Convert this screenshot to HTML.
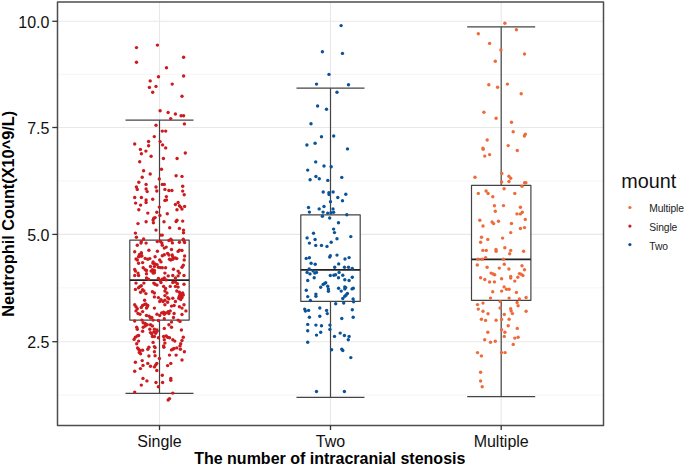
<!DOCTYPE html><html><head><meta charset="utf-8"><style>html,body{margin:0;padding:0;background:#fff;width:685px;height:466px;overflow:hidden}svg{display:block}text{font-family:"Liberation Sans",sans-serif}</style></head><body>
<svg width="685" height="466" viewBox="0 0 685 466">
<rect width="685" height="466" fill="#fff"/>
<line x1="57.5" x2="603.5" y1="395.10" y2="395.10" stroke="#F2F2F2" stroke-width="0.8"/>
<line x1="57.5" x2="603.5" y1="287.90" y2="287.90" stroke="#F2F2F2" stroke-width="0.8"/>
<line x1="57.5" x2="603.5" y1="181.00" y2="181.00" stroke="#F2F2F2" stroke-width="0.8"/>
<line x1="57.5" x2="603.5" y1="74.40" y2="74.40" stroke="#F2F2F2" stroke-width="0.8"/>
<line x1="57.5" x2="603.5" y1="341.70" y2="341.70" stroke="#E8E8E8" stroke-width="1.1"/>
<line x1="57.5" x2="603.5" y1="234.40" y2="234.40" stroke="#E8E8E8" stroke-width="1.1"/>
<line x1="57.5" x2="603.5" y1="127.50" y2="127.50" stroke="#E8E8E8" stroke-width="1.1"/>
<line x1="57.5" x2="603.5" y1="21.30" y2="21.30" stroke="#E8E8E8" stroke-width="1.1"/>
<line x1="159.5" x2="159.5" y1="2.0" y2="425.4" stroke="#E8E8E8" stroke-width="1.1"/>
<line x1="330.5" x2="330.5" y1="2.0" y2="425.4" stroke="#E8E8E8" stroke-width="1.1"/>
<line x1="501.2" x2="501.2" y1="2.0" y2="425.4" stroke="#E8E8E8" stroke-width="1.1"/>
<line x1="125.5" x2="193.5" y1="120.2" y2="120.2" stroke="#444444" stroke-width="1.2"/>
<line x1="125.5" x2="193.5" y1="393.4" y2="393.4" stroke="#444444" stroke-width="1.2"/>
<line x1="159.5" x2="159.5" y1="120.2" y2="240.1" stroke="#444444" stroke-width="1.2"/>
<line x1="159.5" x2="159.5" y1="320.1" y2="393.4" stroke="#444444" stroke-width="1.2"/>
<rect x="129.8" y="240.1" width="59.4" height="80.00000000000003" fill="#fff" stroke="#444444" stroke-width="1.2" stroke-linejoin="round"/>
<line x1="129.8" x2="189.2" y1="280.2" y2="280.2" stroke="#222222" stroke-width="1.75"/>
<line x1="296.5" x2="364.5" y1="88.2" y2="88.2" stroke="#444444" stroke-width="1.2"/>
<line x1="296.5" x2="364.5" y1="397.4" y2="397.4" stroke="#444444" stroke-width="1.2"/>
<line x1="330.5" x2="330.5" y1="88.2" y2="214.9" stroke="#444444" stroke-width="1.2"/>
<line x1="330.5" x2="330.5" y1="301.4" y2="397.4" stroke="#444444" stroke-width="1.2"/>
<rect x="300.8" y="214.9" width="59.4" height="86.49999999999997" fill="#fff" stroke="#444444" stroke-width="1.2" stroke-linejoin="round"/>
<line x1="300.8" x2="360.2" y1="269.8" y2="269.8" stroke="#222222" stroke-width="1.75"/>
<line x1="467.2" x2="535.2" y1="26.9" y2="26.9" stroke="#444444" stroke-width="1.2"/>
<line x1="467.2" x2="535.2" y1="396.7" y2="396.7" stroke="#444444" stroke-width="1.2"/>
<line x1="501.2" x2="501.2" y1="26.9" y2="185.4" stroke="#444444" stroke-width="1.2"/>
<line x1="501.2" x2="501.2" y1="300.3" y2="396.7" stroke="#444444" stroke-width="1.2"/>
<rect x="471.5" y="185.4" width="59.4" height="114.9" fill="#fff" stroke="#444444" stroke-width="1.2" stroke-linejoin="round"/>
<line x1="471.5" x2="530.9" y1="259.3" y2="259.3" stroke="#222222" stroke-width="1.75"/>
<g fill="#CC1A1E">
<circle cx="136.5" cy="47.6" r="1.7"/>
<circle cx="157.4" cy="45.1" r="1.7"/>
<circle cx="183.6" cy="57.3" r="1.7"/>
<circle cx="136.5" cy="62.3" r="1.7"/>
<circle cx="166.5" cy="67.8" r="1.7"/>
<circle cx="158.5" cy="76.8" r="1.7"/>
<circle cx="183.6" cy="76.0" r="1.7"/>
<circle cx="150.2" cy="80.9" r="1.7"/>
<circle cx="172.2" cy="84.1" r="1.7"/>
<circle cx="149.4" cy="87.4" r="1.7"/>
<circle cx="156.0" cy="86.4" r="1.7"/>
<circle cx="152.7" cy="92.2" r="1.7"/>
<circle cx="182.0" cy="96.2" r="1.7"/>
<circle cx="160.1" cy="110.8" r="1.7"/>
<circle cx="168.1" cy="112.5" r="1.7"/>
<circle cx="175.4" cy="114.0" r="1.7"/>
<circle cx="181.1" cy="115.8" r="1.7"/>
<circle cx="183.6" cy="115.8" r="1.7"/>
<circle cx="170.7" cy="118.6" r="1.7"/>
<circle cx="184.4" cy="123.9" r="1.7"/>
<circle cx="156.0" cy="125.3" r="1.7"/>
<circle cx="162.3" cy="131.1" r="1.7"/>
<circle cx="165.7" cy="131.1" r="1.7"/>
<circle cx="154.3" cy="136.6" r="1.7"/>
<circle cx="148.6" cy="141.5" r="1.7"/>
<circle cx="160.1" cy="141.6" r="1.7"/>
<circle cx="134.7" cy="144.0" r="1.7"/>
<circle cx="148.6" cy="145.8" r="1.7"/>
<circle cx="162.6" cy="144.9" r="1.7"/>
<circle cx="165.7" cy="147.9" r="1.7"/>
<circle cx="140.4" cy="149.4" r="1.7"/>
<circle cx="145.9" cy="151.1" r="1.7"/>
<circle cx="141.4" cy="153.8" r="1.7"/>
<circle cx="151.1" cy="156.2" r="1.7"/>
<circle cx="185.3" cy="153.0" r="1.7"/>
<circle cx="163.4" cy="158.5" r="1.7"/>
<circle cx="177.1" cy="158.5" r="1.7"/>
<circle cx="139.7" cy="161.8" r="1.7"/>
<circle cx="161.5" cy="169.2" r="1.7"/>
<circle cx="143.6" cy="170.8" r="1.7"/>
<circle cx="150.2" cy="174.0" r="1.7"/>
<circle cx="176.1" cy="175.7" r="1.7"/>
<circle cx="182.0" cy="176.4" r="1.7"/>
<circle cx="142.2" cy="177.2" r="1.7"/>
<circle cx="159.3" cy="178.9" r="1.7"/>
<circle cx="138.8" cy="182.2" r="1.7"/>
<circle cx="146.1" cy="184.4" r="1.7"/>
<circle cx="162.3" cy="184.4" r="1.7"/>
<circle cx="164.3" cy="184.4" r="1.7"/>
<circle cx="136.4" cy="187.0" r="1.7"/>
<circle cx="137.3" cy="189.4" r="1.7"/>
<circle cx="146.1" cy="189.0" r="1.7"/>
<circle cx="147.2" cy="191.6" r="1.7"/>
<circle cx="156.0" cy="187.0" r="1.7"/>
<circle cx="156.8" cy="191.0" r="1.7"/>
<circle cx="164.9" cy="189.4" r="1.7"/>
<circle cx="168.9" cy="190.5" r="1.7"/>
<circle cx="171.9" cy="190.5" r="1.7"/>
<circle cx="182.7" cy="186.3" r="1.7"/>
<circle cx="182.7" cy="191.1" r="1.7"/>
<circle cx="184.2" cy="194.7" r="1.7"/>
<circle cx="134.7" cy="197.5" r="1.7"/>
<circle cx="141.4" cy="197.5" r="1.7"/>
<circle cx="146.1" cy="199.9" r="1.7"/>
<circle cx="146.1" cy="202.5" r="1.7"/>
<circle cx="152.7" cy="199.2" r="1.7"/>
<circle cx="166.4" cy="196.6" r="1.7"/>
<circle cx="164.9" cy="200.5" r="1.7"/>
<circle cx="166.5" cy="199.9" r="1.7"/>
<circle cx="135.6" cy="203.1" r="1.7"/>
<circle cx="140.6" cy="205.1" r="1.7"/>
<circle cx="138.8" cy="209.7" r="1.7"/>
<circle cx="159.3" cy="207.1" r="1.7"/>
<circle cx="175.4" cy="204.5" r="1.7"/>
<circle cx="178.1" cy="202.5" r="1.7"/>
<circle cx="179.4" cy="205.8" r="1.7"/>
<circle cx="180.7" cy="207.1" r="1.7"/>
<circle cx="182.0" cy="209.1" r="1.7"/>
<circle cx="184.6" cy="206.4" r="1.7"/>
<circle cx="177.0" cy="209.7" r="1.7"/>
<circle cx="147.8" cy="213.1" r="1.7"/>
<circle cx="156.8" cy="212.3" r="1.7"/>
<circle cx="159.9" cy="215.4" r="1.7"/>
<circle cx="167.3" cy="213.8" r="1.7"/>
<circle cx="153.8" cy="218.2" r="1.7"/>
<circle cx="155.1" cy="217.6" r="1.7"/>
<circle cx="153.1" cy="220.0" r="1.7"/>
<circle cx="153.4" cy="222.8" r="1.7"/>
<circle cx="146.1" cy="221.8" r="1.7"/>
<circle cx="138.0" cy="223.6" r="1.7"/>
<circle cx="164.0" cy="221.8" r="1.7"/>
<circle cx="176.1" cy="221.5" r="1.7"/>
<circle cx="177.0" cy="220.2" r="1.7"/>
<circle cx="182.7" cy="221.1" r="1.7"/>
<circle cx="156.0" cy="230.1" r="1.7"/>
<circle cx="169.7" cy="227.7" r="1.7"/>
<circle cx="179.4" cy="228.4" r="1.7"/>
<circle cx="183.5" cy="230.1" r="1.7"/>
<circle cx="183.5" cy="232.7" r="1.7"/>
<circle cx="135.4" cy="233.1" r="1.7"/>
<circle cx="136.4" cy="237.3" r="1.7"/>
<circle cx="160.7" cy="235.1" r="1.7"/>
<circle cx="162.3" cy="235.1" r="1.7"/>
<circle cx="143.6" cy="238.9" r="1.7"/>
<circle cx="170.8" cy="239.3" r="1.7"/>
<circle cx="183.3" cy="239.3" r="1.7"/>
<circle cx="141.3" cy="241.6" r="1.7"/>
<circle cx="141.0" cy="243.1" r="1.7"/>
<circle cx="146.1" cy="243.1" r="1.7"/>
<circle cx="157.3" cy="241.6" r="1.7"/>
<circle cx="160.3" cy="241.3" r="1.7"/>
<circle cx="161.8" cy="242.9" r="1.7"/>
<circle cx="168.9" cy="240.5" r="1.7"/>
<circle cx="171.5" cy="240.3" r="1.7"/>
<circle cx="172.4" cy="242.9" r="1.7"/>
<circle cx="179.4" cy="242.2" r="1.7"/>
<circle cx="184.0" cy="240.9" r="1.7"/>
<circle cx="184.6" cy="242.6" r="1.7"/>
<circle cx="137.3" cy="245.2" r="1.7"/>
<circle cx="162.3" cy="245.2" r="1.7"/>
<circle cx="164.3" cy="248.1" r="1.7"/>
<circle cx="166.2" cy="247.1" r="1.7"/>
<circle cx="171.5" cy="249.5" r="1.7"/>
<circle cx="148.9" cy="250.2" r="1.7"/>
<circle cx="134.7" cy="251.8" r="1.7"/>
<circle cx="157.4" cy="251.3" r="1.7"/>
<circle cx="178.1" cy="251.4" r="1.7"/>
<circle cx="179.4" cy="250.1" r="1.7"/>
<circle cx="182.0" cy="250.5" r="1.7"/>
<circle cx="139.3" cy="254.7" r="1.7"/>
<circle cx="141.3" cy="252.7" r="1.7"/>
<circle cx="140.6" cy="256.0" r="1.7"/>
<circle cx="138.6" cy="256.7" r="1.7"/>
<circle cx="141.9" cy="256.0" r="1.7"/>
<circle cx="162.3" cy="255.8" r="1.7"/>
<circle cx="164.3" cy="254.7" r="1.7"/>
<circle cx="167.6" cy="253.4" r="1.7"/>
<circle cx="168.9" cy="255.0" r="1.7"/>
<circle cx="172.2" cy="255.0" r="1.7"/>
<circle cx="172.8" cy="256.7" r="1.7"/>
<circle cx="155.1" cy="256.7" r="1.7"/>
<circle cx="184.6" cy="256.0" r="1.7"/>
<circle cx="169.5" cy="259.3" r="1.7"/>
<circle cx="170.8" cy="260.0" r="1.7"/>
<circle cx="136.0" cy="258.9" r="1.7"/>
<circle cx="137.3" cy="260.0" r="1.7"/>
<circle cx="145.2" cy="258.4" r="1.7"/>
<circle cx="147.8" cy="259.3" r="1.7"/>
<circle cx="149.8" cy="258.6" r="1.7"/>
<circle cx="153.1" cy="261.9" r="1.7"/>
<circle cx="142.6" cy="262.6" r="1.7"/>
<circle cx="138.6" cy="263.2" r="1.7"/>
<circle cx="159.7" cy="260.0" r="1.7"/>
<circle cx="161.0" cy="261.9" r="1.7"/>
<circle cx="175.4" cy="258.0" r="1.7"/>
<circle cx="176.8" cy="258.6" r="1.7"/>
<circle cx="172.8" cy="259.3" r="1.7"/>
<circle cx="184.2" cy="260.0" r="1.7"/>
<circle cx="153.1" cy="263.2" r="1.7"/>
<circle cx="155.1" cy="263.9" r="1.7"/>
<circle cx="157.0" cy="264.6" r="1.7"/>
<circle cx="150.5" cy="266.5" r="1.7"/>
<circle cx="154.4" cy="266.5" r="1.7"/>
<circle cx="158.4" cy="267.2" r="1.7"/>
<circle cx="160.3" cy="267.6" r="1.7"/>
<circle cx="162.3" cy="267.8" r="1.7"/>
<circle cx="165.6" cy="267.8" r="1.7"/>
<circle cx="183.3" cy="265.2" r="1.7"/>
<circle cx="182.0" cy="267.2" r="1.7"/>
<circle cx="143.2" cy="267.8" r="1.7"/>
<circle cx="134.7" cy="269.4" r="1.7"/>
<circle cx="135.4" cy="271.1" r="1.7"/>
<circle cx="145.2" cy="269.8" r="1.7"/>
<circle cx="146.5" cy="270.5" r="1.7"/>
<circle cx="151.1" cy="271.1" r="1.7"/>
<circle cx="152.4" cy="269.8" r="1.7"/>
<circle cx="154.4" cy="270.5" r="1.7"/>
<circle cx="153.1" cy="273.1" r="1.7"/>
<circle cx="146.5" cy="273.8" r="1.7"/>
<circle cx="164.9" cy="273.1" r="1.7"/>
<circle cx="173.5" cy="269.2" r="1.7"/>
<circle cx="178.1" cy="271.1" r="1.7"/>
<circle cx="179.4" cy="273.1" r="1.7"/>
<circle cx="138.0" cy="273.1" r="1.7"/>
<circle cx="153.1" cy="271.8" r="1.7"/>
<circle cx="154.4" cy="272.8" r="1.7"/>
<circle cx="141.3" cy="253.4" r="1.7"/>
<circle cx="140.0" cy="254.7" r="1.7"/>
<circle cx="134.7" cy="275.5" r="1.7"/>
<circle cx="138.6" cy="275.5" r="1.7"/>
<circle cx="146.5" cy="277.9" r="1.7"/>
<circle cx="148.5" cy="279.2" r="1.7"/>
<circle cx="158.4" cy="278.5" r="1.7"/>
<circle cx="160.3" cy="280.5" r="1.7"/>
<circle cx="162.3" cy="279.2" r="1.7"/>
<circle cx="164.3" cy="277.9" r="1.7"/>
<circle cx="166.2" cy="279.9" r="1.7"/>
<circle cx="168.2" cy="275.9" r="1.7"/>
<circle cx="172.8" cy="275.5" r="1.7"/>
<circle cx="175.4" cy="277.9" r="1.7"/>
<circle cx="178.1" cy="275.9" r="1.7"/>
<circle cx="184.0" cy="275.5" r="1.7"/>
<circle cx="136.0" cy="283.1" r="1.7"/>
<circle cx="143.9" cy="283.1" r="1.7"/>
<circle cx="153.8" cy="283.1" r="1.7"/>
<circle cx="155.1" cy="284.2" r="1.7"/>
<circle cx="157.0" cy="285.1" r="1.7"/>
<circle cx="161.0" cy="282.5" r="1.7"/>
<circle cx="172.8" cy="282.5" r="1.7"/>
<circle cx="175.4" cy="282.1" r="1.7"/>
<circle cx="177.4" cy="283.8" r="1.7"/>
<circle cx="184.0" cy="284.2" r="1.7"/>
<circle cx="140.0" cy="286.4" r="1.7"/>
<circle cx="138.6" cy="287.7" r="1.7"/>
<circle cx="141.3" cy="285.8" r="1.7"/>
<circle cx="163.6" cy="286.4" r="1.7"/>
<circle cx="165.6" cy="288.4" r="1.7"/>
<circle cx="170.2" cy="286.4" r="1.7"/>
<circle cx="175.4" cy="286.4" r="1.7"/>
<circle cx="178.1" cy="287.1" r="1.7"/>
<circle cx="135.4" cy="289.4" r="1.7"/>
<circle cx="142.6" cy="289.7" r="1.7"/>
<circle cx="143.9" cy="291.0" r="1.7"/>
<circle cx="140.6" cy="292.3" r="1.7"/>
<circle cx="145.9" cy="293.6" r="1.7"/>
<circle cx="152.4" cy="291.7" r="1.7"/>
<circle cx="154.4" cy="293.0" r="1.7"/>
<circle cx="164.9" cy="291.0" r="1.7"/>
<circle cx="166.9" cy="293.0" r="1.7"/>
<circle cx="176.8" cy="291.0" r="1.7"/>
<circle cx="179.4" cy="292.3" r="1.7"/>
<circle cx="180.7" cy="293.6" r="1.7"/>
<circle cx="182.7" cy="293.0" r="1.7"/>
<circle cx="183.3" cy="295.0" r="1.7"/>
<circle cx="154.4" cy="296.9" r="1.7"/>
<circle cx="158.4" cy="297.6" r="1.7"/>
<circle cx="161.0" cy="299.6" r="1.7"/>
<circle cx="164.9" cy="295.6" r="1.7"/>
<circle cx="167.6" cy="297.6" r="1.7"/>
<circle cx="168.9" cy="298.9" r="1.7"/>
<circle cx="172.8" cy="298.2" r="1.7"/>
<circle cx="179.4" cy="296.3" r="1.7"/>
<circle cx="180.7" cy="298.2" r="1.7"/>
<circle cx="182.0" cy="297.6" r="1.7"/>
<circle cx="175.4" cy="301.5" r="1.7"/>
<circle cx="144.6" cy="300.2" r="1.7"/>
<circle cx="163.0" cy="301.5" r="1.7"/>
<circle cx="164.9" cy="300.2" r="1.7"/>
<circle cx="134.7" cy="304.8" r="1.7"/>
<circle cx="136.0" cy="306.8" r="1.7"/>
<circle cx="142.6" cy="305.5" r="1.7"/>
<circle cx="145.9" cy="303.9" r="1.7"/>
<circle cx="147.8" cy="305.5" r="1.7"/>
<circle cx="146.5" cy="308.1" r="1.7"/>
<circle cx="154.4" cy="308.1" r="1.7"/>
<circle cx="159.7" cy="301.5" r="1.7"/>
<circle cx="164.9" cy="304.8" r="1.7"/>
<circle cx="167.6" cy="302.2" r="1.7"/>
<circle cx="171.5" cy="306.1" r="1.7"/>
<circle cx="174.1" cy="305.5" r="1.7"/>
<circle cx="179.4" cy="306.8" r="1.7"/>
<circle cx="182.0" cy="308.1" r="1.7"/>
<circle cx="184.0" cy="304.8" r="1.7"/>
<circle cx="137.3" cy="308.8" r="1.7"/>
<circle cx="180.0" cy="295.0" r="1.7"/>
<circle cx="181.4" cy="296.3" r="1.7"/>
<circle cx="178.7" cy="298.2" r="1.7"/>
<circle cx="180.7" cy="299.6" r="1.7"/>
<circle cx="144.6" cy="304.4" r="1.7"/>
<circle cx="147.2" cy="306.8" r="1.7"/>
<circle cx="141.3" cy="307.4" r="1.7"/>
<circle cx="136.0" cy="310.9" r="1.7"/>
<circle cx="138.0" cy="313.5" r="1.7"/>
<circle cx="140.0" cy="314.2" r="1.7"/>
<circle cx="142.6" cy="311.6" r="1.7"/>
<circle cx="146.5" cy="315.5" r="1.7"/>
<circle cx="149.2" cy="316.2" r="1.7"/>
<circle cx="151.8" cy="317.5" r="1.7"/>
<circle cx="157.0" cy="314.2" r="1.7"/>
<circle cx="159.7" cy="315.5" r="1.7"/>
<circle cx="161.6" cy="312.9" r="1.7"/>
<circle cx="163.6" cy="312.2" r="1.7"/>
<circle cx="164.3" cy="314.2" r="1.7"/>
<circle cx="166.2" cy="312.9" r="1.7"/>
<circle cx="168.2" cy="311.6" r="1.7"/>
<circle cx="168.9" cy="313.5" r="1.7"/>
<circle cx="170.2" cy="310.9" r="1.7"/>
<circle cx="174.1" cy="313.5" r="1.7"/>
<circle cx="173.5" cy="317.5" r="1.7"/>
<circle cx="182.0" cy="314.5" r="1.7"/>
<circle cx="185.9" cy="310.9" r="1.7"/>
<circle cx="134.7" cy="321.0" r="1.7"/>
<circle cx="141.9" cy="320.1" r="1.7"/>
<circle cx="143.2" cy="322.7" r="1.7"/>
<circle cx="145.2" cy="323.4" r="1.7"/>
<circle cx="147.2" cy="324.7" r="1.7"/>
<circle cx="150.5" cy="318.1" r="1.7"/>
<circle cx="153.1" cy="320.1" r="1.7"/>
<circle cx="158.4" cy="320.5" r="1.7"/>
<circle cx="164.3" cy="318.8" r="1.7"/>
<circle cx="171.5" cy="322.1" r="1.7"/>
<circle cx="178.1" cy="320.1" r="1.7"/>
<circle cx="180.0" cy="321.4" r="1.7"/>
<circle cx="168.9" cy="324.7" r="1.7"/>
<circle cx="150.5" cy="324.7" r="1.7"/>
<circle cx="136.7" cy="327.3" r="1.7"/>
<circle cx="137.3" cy="329.3" r="1.7"/>
<circle cx="143.2" cy="327.3" r="1.7"/>
<circle cx="145.2" cy="326.0" r="1.7"/>
<circle cx="149.8" cy="329.3" r="1.7"/>
<circle cx="152.4" cy="326.0" r="1.7"/>
<circle cx="154.4" cy="329.3" r="1.7"/>
<circle cx="157.0" cy="330.0" r="1.7"/>
<circle cx="164.3" cy="328.4" r="1.7"/>
<circle cx="171.5" cy="327.3" r="1.7"/>
<circle cx="181.4" cy="330.0" r="1.7"/>
<circle cx="142.6" cy="331.3" r="1.7"/>
<circle cx="150.5" cy="332.6" r="1.7"/>
<circle cx="151.8" cy="333.9" r="1.7"/>
<circle cx="153.8" cy="331.9" r="1.7"/>
<circle cx="155.7" cy="333.2" r="1.7"/>
<circle cx="157.0" cy="331.3" r="1.7"/>
<circle cx="154.4" cy="336.5" r="1.7"/>
<circle cx="152.4" cy="336.5" r="1.7"/>
<circle cx="158.4" cy="337.8" r="1.7"/>
<circle cx="163.6" cy="336.5" r="1.7"/>
<circle cx="166.2" cy="335.9" r="1.7"/>
<circle cx="167.6" cy="337.2" r="1.7"/>
<circle cx="169.5" cy="337.8" r="1.7"/>
<circle cx="137.3" cy="335.9" r="1.7"/>
<circle cx="135.4" cy="337.2" r="1.7"/>
<circle cx="138.6" cy="335.5" r="1.7"/>
<circle cx="183.3" cy="337.2" r="1.7"/>
<circle cx="134.1" cy="339.4" r="1.7"/>
<circle cx="138.6" cy="341.1" r="1.7"/>
<circle cx="136.7" cy="343.8" r="1.7"/>
<circle cx="153.1" cy="342.4" r="1.7"/>
<circle cx="164.3" cy="339.8" r="1.7"/>
<circle cx="164.9" cy="343.1" r="1.7"/>
<circle cx="172.8" cy="339.8" r="1.7"/>
<circle cx="174.8" cy="341.1" r="1.7"/>
<circle cx="182.0" cy="340.5" r="1.7"/>
<circle cx="180.7" cy="343.8" r="1.7"/>
<circle cx="137.6" cy="347.9" r="1.7"/>
<circle cx="138.6" cy="349.2" r="1.7"/>
<circle cx="140.0" cy="350.5" r="1.7"/>
<circle cx="139.3" cy="352.5" r="1.7"/>
<circle cx="140.6" cy="353.8" r="1.7"/>
<circle cx="142.6" cy="350.2" r="1.7"/>
<circle cx="147.8" cy="349.2" r="1.7"/>
<circle cx="148.9" cy="347.2" r="1.7"/>
<circle cx="154.4" cy="346.6" r="1.7"/>
<circle cx="155.1" cy="347.6" r="1.7"/>
<circle cx="154.4" cy="351.8" r="1.7"/>
<circle cx="155.1" cy="355.8" r="1.7"/>
<circle cx="148.9" cy="356.0" r="1.7"/>
<circle cx="163.6" cy="345.9" r="1.7"/>
<circle cx="163.9" cy="347.2" r="1.7"/>
<circle cx="169.5" cy="355.1" r="1.7"/>
<circle cx="171.5" cy="349.9" r="1.7"/>
<circle cx="172.8" cy="349.2" r="1.7"/>
<circle cx="174.1" cy="348.5" r="1.7"/>
<circle cx="176.8" cy="347.9" r="1.7"/>
<circle cx="180.0" cy="345.9" r="1.7"/>
<circle cx="180.4" cy="349.2" r="1.7"/>
<circle cx="184.4" cy="351.8" r="1.7"/>
<circle cx="176.1" cy="355.1" r="1.7"/>
<circle cx="182.0" cy="360.0" r="1.7"/>
<circle cx="159.4" cy="358.4" r="1.7"/>
<circle cx="142.2" cy="360.6" r="1.7"/>
<circle cx="135.4" cy="362.3" r="1.7"/>
<circle cx="147.8" cy="363.4" r="1.7"/>
<circle cx="143.0" cy="365.4" r="1.7"/>
<circle cx="150.5" cy="366.3" r="1.7"/>
<circle cx="154.4" cy="366.9" r="1.7"/>
<circle cx="155.7" cy="365.0" r="1.7"/>
<circle cx="156.8" cy="363.4" r="1.7"/>
<circle cx="140.4" cy="368.6" r="1.7"/>
<circle cx="134.7" cy="371.3" r="1.7"/>
<circle cx="156.8" cy="370.5" r="1.7"/>
<circle cx="167.6" cy="365.6" r="1.7"/>
<circle cx="170.8" cy="363.4" r="1.7"/>
<circle cx="162.3" cy="375.2" r="1.7"/>
<circle cx="143.0" cy="378.4" r="1.7"/>
<circle cx="170.8" cy="378.4" r="1.7"/>
<circle cx="170.8" cy="380.3" r="1.7"/>
<circle cx="146.9" cy="380.9" r="1.7"/>
<circle cx="141.3" cy="385.1" r="1.7"/>
<circle cx="156.0" cy="382.5" r="1.7"/>
<circle cx="162.6" cy="382.5" r="1.7"/>
<circle cx="158.4" cy="386.8" r="1.7"/>
<circle cx="134.7" cy="392.1" r="1.7"/>
<circle cx="172.8" cy="393.1" r="1.7"/>
<circle cx="168.2" cy="400.0" r="1.7"/>
<circle cx="169.5" cy="398.6" r="1.7"/>
</g>
<g fill="#0B5398">
<circle cx="341.1" cy="25.6" r="1.7"/>
<circle cx="322.4" cy="51.7" r="1.7"/>
<circle cx="342.5" cy="53.4" r="1.7"/>
<circle cx="329.0" cy="74.4" r="1.7"/>
<circle cx="316.5" cy="84.1" r="1.7"/>
<circle cx="348.5" cy="84.8" r="1.7"/>
<circle cx="337.0" cy="92.2" r="1.7"/>
<circle cx="317.6" cy="106.0" r="1.7"/>
<circle cx="326.5" cy="109.2" r="1.7"/>
<circle cx="311.0" cy="123.7" r="1.7"/>
<circle cx="321.5" cy="136.8" r="1.7"/>
<circle cx="333.7" cy="136.0" r="1.7"/>
<circle cx="306.9" cy="145.0" r="1.7"/>
<circle cx="315.1" cy="143.3" r="1.7"/>
<circle cx="347.5" cy="148.9" r="1.7"/>
<circle cx="315.7" cy="161.9" r="1.7"/>
<circle cx="324.0" cy="166.0" r="1.7"/>
<circle cx="331.2" cy="166.8" r="1.7"/>
<circle cx="307.7" cy="170.1" r="1.7"/>
<circle cx="315.9" cy="176.5" r="1.7"/>
<circle cx="319.3" cy="178.7" r="1.7"/>
<circle cx="310.1" cy="179.7" r="1.7"/>
<circle cx="327.8" cy="180.4" r="1.7"/>
<circle cx="341.8" cy="177.4" r="1.7"/>
<circle cx="323.2" cy="192.0" r="1.7"/>
<circle cx="328.9" cy="192.7" r="1.7"/>
<circle cx="329.1" cy="194.5" r="1.7"/>
<circle cx="333.1" cy="192.0" r="1.7"/>
<circle cx="345.8" cy="194.2" r="1.7"/>
<circle cx="337.8" cy="197.5" r="1.7"/>
<circle cx="342.5" cy="200.8" r="1.7"/>
<circle cx="330.5" cy="201.7" r="1.7"/>
<circle cx="308.5" cy="207.5" r="1.7"/>
<circle cx="309.4" cy="212.1" r="1.7"/>
<circle cx="319.2" cy="208.9" r="1.7"/>
<circle cx="324.0" cy="206.5" r="1.7"/>
<circle cx="323.1" cy="212.1" r="1.7"/>
<circle cx="327.7" cy="213.1" r="1.7"/>
<circle cx="331.0" cy="212.8" r="1.7"/>
<circle cx="333.0" cy="208.9" r="1.7"/>
<circle cx="333.6" cy="212.2" r="1.7"/>
<circle cx="322.4" cy="216.3" r="1.7"/>
<circle cx="329.7" cy="218.0" r="1.7"/>
<circle cx="346.8" cy="214.7" r="1.7"/>
<circle cx="338.5" cy="222.7" r="1.7"/>
<circle cx="333.6" cy="229.1" r="1.7"/>
<circle cx="334.5" cy="232.6" r="1.7"/>
<circle cx="313.5" cy="233.2" r="1.7"/>
<circle cx="307.1" cy="237.9" r="1.7"/>
<circle cx="315.1" cy="239.5" r="1.7"/>
<circle cx="337.0" cy="238.7" r="1.7"/>
<circle cx="350.8" cy="236.6" r="1.7"/>
<circle cx="309.4" cy="243.1" r="1.7"/>
<circle cx="315.7" cy="245.4" r="1.7"/>
<circle cx="321.5" cy="245.4" r="1.7"/>
<circle cx="327.0" cy="246.4" r="1.7"/>
<circle cx="331.2" cy="242.2" r="1.7"/>
<circle cx="306.2" cy="258.4" r="1.7"/>
<circle cx="309.4" cy="257.7" r="1.7"/>
<circle cx="329.7" cy="257.1" r="1.7"/>
<circle cx="330.3" cy="255.8" r="1.7"/>
<circle cx="337.0" cy="255.1" r="1.7"/>
<circle cx="345.0" cy="259.0" r="1.7"/>
<circle cx="349.1" cy="257.6" r="1.7"/>
<circle cx="311.1" cy="263.2" r="1.7"/>
<circle cx="315.2" cy="264.2" r="1.7"/>
<circle cx="338.7" cy="263.9" r="1.7"/>
<circle cx="334.7" cy="267.2" r="1.7"/>
<circle cx="344.5" cy="267.2" r="1.7"/>
<circle cx="348.5" cy="267.2" r="1.7"/>
<circle cx="352.3" cy="268.5" r="1.7"/>
<circle cx="309.2" cy="268.9" r="1.7"/>
<circle cx="307.1" cy="272.4" r="1.7"/>
<circle cx="310.0" cy="273.9" r="1.7"/>
<circle cx="313.1" cy="270.9" r="1.7"/>
<circle cx="316.5" cy="272.4" r="1.7"/>
<circle cx="314.8" cy="273.1" r="1.7"/>
<circle cx="314.2" cy="277.8" r="1.7"/>
<circle cx="307.7" cy="280.5" r="1.7"/>
<circle cx="330.3" cy="275.5" r="1.7"/>
<circle cx="333.9" cy="275.3" r="1.7"/>
<circle cx="335.6" cy="274.7" r="1.7"/>
<circle cx="339.1" cy="272.4" r="1.7"/>
<circle cx="338.5" cy="277.7" r="1.7"/>
<circle cx="342.8" cy="275.3" r="1.7"/>
<circle cx="344.8" cy="279.7" r="1.7"/>
<circle cx="349.1" cy="280.5" r="1.7"/>
<circle cx="352.3" cy="277.3" r="1.7"/>
<circle cx="324.4" cy="283.6" r="1.7"/>
<circle cx="323.1" cy="284.4" r="1.7"/>
<circle cx="325.7" cy="282.7" r="1.7"/>
<circle cx="320.7" cy="287.2" r="1.7"/>
<circle cx="327.7" cy="286.2" r="1.7"/>
<circle cx="328.4" cy="288.9" r="1.7"/>
<circle cx="328.4" cy="291.2" r="1.7"/>
<circle cx="338.6" cy="288.2" r="1.7"/>
<circle cx="341.2" cy="291.1" r="1.7"/>
<circle cx="344.8" cy="286.9" r="1.7"/>
<circle cx="345.7" cy="287.6" r="1.7"/>
<circle cx="344.8" cy="288.9" r="1.7"/>
<circle cx="352.0" cy="288.9" r="1.7"/>
<circle cx="353.3" cy="288.2" r="1.7"/>
<circle cx="306.3" cy="290.2" r="1.7"/>
<circle cx="315.9" cy="294.1" r="1.7"/>
<circle cx="347.4" cy="293.5" r="1.7"/>
<circle cx="307.7" cy="296.6" r="1.7"/>
<circle cx="315.9" cy="296.3" r="1.7"/>
<circle cx="310.4" cy="300.5" r="1.7"/>
<circle cx="342.8" cy="298.5" r="1.7"/>
<circle cx="344.8" cy="296.3" r="1.7"/>
<circle cx="346.1" cy="295.0" r="1.7"/>
<circle cx="353.1" cy="298.9" r="1.7"/>
<circle cx="353.6" cy="301.8" r="1.7"/>
<circle cx="335.7" cy="303.8" r="1.7"/>
<circle cx="343.7" cy="303.1" r="1.7"/>
<circle cx="304.7" cy="309.1" r="1.7"/>
<circle cx="305.4" cy="311.0" r="1.7"/>
<circle cx="308.6" cy="310.4" r="1.7"/>
<circle cx="319.8" cy="308.0" r="1.7"/>
<circle cx="326.6" cy="310.4" r="1.7"/>
<circle cx="327.3" cy="313.6" r="1.7"/>
<circle cx="352.3" cy="309.7" r="1.7"/>
<circle cx="309.4" cy="317.2" r="1.7"/>
<circle cx="319.8" cy="316.3" r="1.7"/>
<circle cx="341.8" cy="318.5" r="1.7"/>
<circle cx="353.2" cy="317.2" r="1.7"/>
<circle cx="307.7" cy="324.4" r="1.7"/>
<circle cx="315.9" cy="325.1" r="1.7"/>
<circle cx="321.5" cy="325.7" r="1.7"/>
<circle cx="329.9" cy="325.1" r="1.7"/>
<circle cx="329.9" cy="329.4" r="1.7"/>
<circle cx="307.7" cy="330.7" r="1.7"/>
<circle cx="320.7" cy="332.3" r="1.7"/>
<circle cx="316.5" cy="335.1" r="1.7"/>
<circle cx="334.5" cy="336.4" r="1.7"/>
<circle cx="340.2" cy="333.1" r="1.7"/>
<circle cx="344.4" cy="335.5" r="1.7"/>
<circle cx="349.1" cy="336.4" r="1.7"/>
<circle cx="348.3" cy="339.7" r="1.7"/>
<circle cx="307.7" cy="342.2" r="1.7"/>
<circle cx="331.6" cy="349.8" r="1.7"/>
<circle cx="341.8" cy="349.3" r="1.7"/>
<circle cx="342.8" cy="350.5" r="1.7"/>
<circle cx="350.8" cy="357.6" r="1.7"/>
<circle cx="316.5" cy="391.5" r="1.7"/>
<circle cx="344.4" cy="391.5" r="1.7"/>
</g>
<g fill="#EF6A3A">
<circle cx="504.9" cy="23.3" r="1.7"/>
<circle cx="516.4" cy="29.7" r="1.7"/>
<circle cx="478.3" cy="33.8" r="1.7"/>
<circle cx="489.6" cy="43.4" r="1.7"/>
<circle cx="500.9" cy="49.9" r="1.7"/>
<circle cx="524.5" cy="54.0" r="1.7"/>
<circle cx="495.3" cy="61.2" r="1.7"/>
<circle cx="488.8" cy="84.8" r="1.7"/>
<circle cx="497.6" cy="87.2" r="1.7"/>
<circle cx="507.4" cy="84.1" r="1.7"/>
<circle cx="521.2" cy="93.8" r="1.7"/>
<circle cx="483.9" cy="112.3" r="1.7"/>
<circle cx="496.1" cy="118.2" r="1.7"/>
<circle cx="511.5" cy="122.3" r="1.7"/>
<circle cx="513.2" cy="131.8" r="1.7"/>
<circle cx="525.3" cy="134.2" r="1.7"/>
<circle cx="524.4" cy="136.0" r="1.7"/>
<circle cx="487.2" cy="140.0" r="1.7"/>
<circle cx="482.9" cy="148.1" r="1.7"/>
<circle cx="483.2" cy="149.2" r="1.7"/>
<circle cx="508.2" cy="145.6" r="1.7"/>
<circle cx="517.3" cy="150.5" r="1.7"/>
<circle cx="484.8" cy="156.1" r="1.7"/>
<circle cx="489.6" cy="154.6" r="1.7"/>
<circle cx="501.8" cy="173.4" r="1.7"/>
<circle cx="475.0" cy="177.3" r="1.7"/>
<circle cx="508.9" cy="176.2" r="1.7"/>
<circle cx="510.7" cy="178.2" r="1.7"/>
<circle cx="501.6" cy="182.0" r="1.7"/>
<circle cx="509.0" cy="181.5" r="1.7"/>
<circle cx="524.6" cy="182.8" r="1.7"/>
<circle cx="525.9" cy="182.8" r="1.7"/>
<circle cx="522.0" cy="186.3" r="1.7"/>
<circle cx="504.1" cy="188.7" r="1.7"/>
<circle cx="478.3" cy="193.4" r="1.7"/>
<circle cx="486.1" cy="191.0" r="1.7"/>
<circle cx="488.1" cy="193.5" r="1.7"/>
<circle cx="514.8" cy="193.4" r="1.7"/>
<circle cx="492.8" cy="196.7" r="1.7"/>
<circle cx="494.4" cy="205.8" r="1.7"/>
<circle cx="503.5" cy="205.6" r="1.7"/>
<circle cx="520.4" cy="207.3" r="1.7"/>
<circle cx="495.3" cy="211.3" r="1.7"/>
<circle cx="517.0" cy="213.9" r="1.7"/>
<circle cx="520.4" cy="213.9" r="1.7"/>
<circle cx="522.3" cy="212.2" r="1.7"/>
<circle cx="525.3" cy="219.4" r="1.7"/>
<circle cx="479.8" cy="220.3" r="1.7"/>
<circle cx="492.1" cy="222.0" r="1.7"/>
<circle cx="493.6" cy="223.6" r="1.7"/>
<circle cx="498.5" cy="221.3" r="1.7"/>
<circle cx="511.5" cy="223.5" r="1.7"/>
<circle cx="483.0" cy="226.0" r="1.7"/>
<circle cx="520.4" cy="228.5" r="1.7"/>
<circle cx="524.5" cy="227.6" r="1.7"/>
<circle cx="510.7" cy="232.6" r="1.7"/>
<circle cx="481.5" cy="237.3" r="1.7"/>
<circle cx="487.8" cy="239.4" r="1.7"/>
<circle cx="502.6" cy="238.1" r="1.7"/>
<circle cx="480.6" cy="242.2" r="1.7"/>
<circle cx="482.9" cy="250.4" r="1.7"/>
<circle cx="486.3" cy="250.4" r="1.7"/>
<circle cx="496.0" cy="249.5" r="1.7"/>
<circle cx="496.1" cy="251.3" r="1.7"/>
<circle cx="504.8" cy="247.7" r="1.7"/>
<circle cx="510.7" cy="250.4" r="1.7"/>
<circle cx="509.7" cy="253.7" r="1.7"/>
<circle cx="523.6" cy="251.2" r="1.7"/>
<circle cx="478.0" cy="259.2" r="1.7"/>
<circle cx="482.2" cy="259.3" r="1.7"/>
<circle cx="485.6" cy="257.6" r="1.7"/>
<circle cx="503.4" cy="259.2" r="1.7"/>
<circle cx="477.3" cy="265.0" r="1.7"/>
<circle cx="504.3" cy="264.2" r="1.7"/>
<circle cx="487.1" cy="267.2" r="1.7"/>
<circle cx="499.3" cy="268.1" r="1.7"/>
<circle cx="508.9" cy="269.0" r="1.7"/>
<circle cx="522.0" cy="265.7" r="1.7"/>
<circle cx="524.5" cy="269.7" r="1.7"/>
<circle cx="491.1" cy="273.1" r="1.7"/>
<circle cx="493.1" cy="274.0" r="1.7"/>
<circle cx="494.7" cy="274.7" r="1.7"/>
<circle cx="519.4" cy="273.6" r="1.7"/>
<circle cx="521.1" cy="274.2" r="1.7"/>
<circle cx="522.9" cy="275.5" r="1.7"/>
<circle cx="480.6" cy="277.8" r="1.7"/>
<circle cx="484.8" cy="279.5" r="1.7"/>
<circle cx="489.6" cy="282.0" r="1.7"/>
<circle cx="494.4" cy="281.9" r="1.7"/>
<circle cx="501.6" cy="278.8" r="1.7"/>
<circle cx="510.7" cy="276.4" r="1.7"/>
<circle cx="510.7" cy="278.0" r="1.7"/>
<circle cx="514.8" cy="281.1" r="1.7"/>
<circle cx="517.8" cy="277.3" r="1.7"/>
<circle cx="504.1" cy="286.9" r="1.7"/>
<circle cx="506.5" cy="289.3" r="1.7"/>
<circle cx="509.1" cy="289.3" r="1.7"/>
<circle cx="492.7" cy="291.8" r="1.7"/>
<circle cx="501.6" cy="291.1" r="1.7"/>
<circle cx="516.4" cy="292.4" r="1.7"/>
<circle cx="490.5" cy="298.1" r="1.7"/>
<circle cx="509.1" cy="298.1" r="1.7"/>
<circle cx="519.4" cy="298.9" r="1.7"/>
<circle cx="526.1" cy="297.5" r="1.7"/>
<circle cx="500.2" cy="301.6" r="1.7"/>
<circle cx="477.5" cy="304.6" r="1.7"/>
<circle cx="483.0" cy="303.1" r="1.7"/>
<circle cx="517.1" cy="302.5" r="1.7"/>
<circle cx="518.1" cy="305.8" r="1.7"/>
<circle cx="478.3" cy="309.1" r="1.7"/>
<circle cx="500.1" cy="308.0" r="1.7"/>
<circle cx="483.0" cy="311.2" r="1.7"/>
<circle cx="510.7" cy="308.7" r="1.7"/>
<circle cx="511.2" cy="311.0" r="1.7"/>
<circle cx="512.4" cy="313.6" r="1.7"/>
<circle cx="526.1" cy="311.3" r="1.7"/>
<circle cx="488.0" cy="313.8" r="1.7"/>
<circle cx="504.3" cy="314.4" r="1.7"/>
<circle cx="481.4" cy="319.2" r="1.7"/>
<circle cx="485.6" cy="320.4" r="1.7"/>
<circle cx="496.1" cy="320.2" r="1.7"/>
<circle cx="501.6" cy="319.4" r="1.7"/>
<circle cx="509.1" cy="319.2" r="1.7"/>
<circle cx="508.2" cy="325.7" r="1.7"/>
<circle cx="517.3" cy="328.4" r="1.7"/>
<circle cx="487.8" cy="332.3" r="1.7"/>
<circle cx="501.6" cy="329.7" r="1.7"/>
<circle cx="504.9" cy="332.3" r="1.7"/>
<circle cx="504.3" cy="336.4" r="1.7"/>
<circle cx="514.8" cy="338.1" r="1.7"/>
<circle cx="518.1" cy="337.3" r="1.7"/>
<circle cx="484.7" cy="339.7" r="1.7"/>
<circle cx="490.5" cy="342.2" r="1.7"/>
<circle cx="495.3" cy="341.2" r="1.7"/>
<circle cx="513.2" cy="344.4" r="1.7"/>
<circle cx="477.5" cy="352.6" r="1.7"/>
<circle cx="481.4" cy="355.9" r="1.7"/>
<circle cx="501.6" cy="352.6" r="1.7"/>
<circle cx="505.1" cy="352.6" r="1.7"/>
<circle cx="480.6" cy="372.2" r="1.7"/>
<circle cx="480.6" cy="381.0" r="1.7"/>
<circle cx="482.2" cy="386.8" r="1.7"/>
</g>
<rect x="57.5" y="2.0" width="546.0" height="423.4" fill="none" stroke="#4d4d4d" stroke-width="1.5" stroke-linejoin="round"/>
<line x1="52.3" x2="57.5" y1="341.70" y2="341.70" stroke="#333" stroke-width="1.3"/>
<text x="49.4" y="348.30" font-size="16" text-anchor="end" fill="#111">2.5</text>
<line x1="52.3" x2="57.5" y1="234.40" y2="234.40" stroke="#333" stroke-width="1.3"/>
<text x="49.4" y="241.00" font-size="16" text-anchor="end" fill="#111">5.0</text>
<line x1="52.3" x2="57.5" y1="127.50" y2="127.50" stroke="#333" stroke-width="1.3"/>
<text x="49.4" y="134.10" font-size="16" text-anchor="end" fill="#111">7.5</text>
<line x1="52.3" x2="57.5" y1="21.30" y2="21.30" stroke="#333" stroke-width="1.3"/>
<text x="49.4" y="27.90" font-size="16" text-anchor="end" fill="#111">10.0</text>
<line x1="159.5" x2="159.5" y1="425.4" y2="430.0" stroke="#333" stroke-width="1.3"/>
<text x="159.5" y="446.7" font-size="16" text-anchor="middle" fill="#111">Single</text>
<line x1="330.5" x2="330.5" y1="425.4" y2="430.0" stroke="#333" stroke-width="1.3"/>
<text x="330.5" y="446.7" font-size="16" text-anchor="middle" fill="#111">Two</text>
<line x1="501.2" x2="501.2" y1="425.4" y2="430.0" stroke="#333" stroke-width="1.3"/>
<text x="501.2" y="446.7" font-size="16" text-anchor="middle" fill="#111">Multiple</text>
<text x="329.8" y="464" font-size="16" font-weight="bold" text-anchor="middle" fill="#000">The number of intracranial stenosis</text>
<text transform="translate(14.0,213.8) rotate(-90)" x="0" y="0" font-size="16.3" font-weight="bold" text-anchor="middle" fill="#000">Neutrophil Count(X10^9/L)</text>
<text x="621.2" y="188" font-size="19.8" fill="#111">mount</text>
<circle cx="629.9" cy="207.5" r="1.6" fill="#EF6A3A"/>
<text x="649.3" y="212.4" font-size="10.3" letter-spacing="-0.12" fill="#222">Multiple</text>
<circle cx="629.9" cy="226.1" r="1.6" fill="#CC1A1E"/>
<text x="649.3" y="231.0" font-size="10.3" letter-spacing="-0.12" fill="#222">Single</text>
<circle cx="629.9" cy="244.6" r="1.6" fill="#0B5398"/>
<text x="649.3" y="249.5" font-size="10.3" letter-spacing="-0.12" fill="#222">Two</text>
</svg></body></html>
